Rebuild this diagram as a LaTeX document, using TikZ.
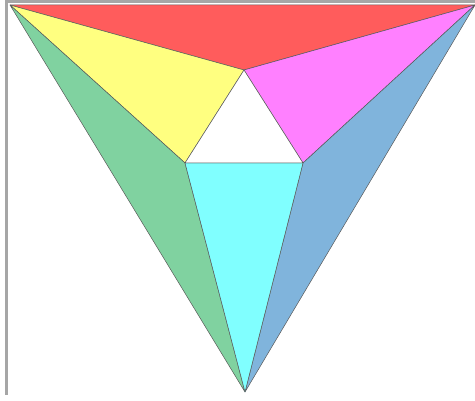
\documentclass[tikz,border=0pt]{standalone}
\usepackage{xcolor}
\usepackage{tikz}
\definecolor{facered}{RGB}{255,92,92}
\definecolor{faceyellow}{RGB}{255,255,128}
\definecolor{facemagenta}{RGB}{255,128,255}
\definecolor{facegreen}{RGB}{128,210,160}
\definecolor{faceblue}{RGB}{128,180,220}
\definecolor{facecyan}{RGB}{128,255,255}
\tikzset{
  face/.style={draw=black!65, line width=0.5pt, line join=round},
  frameline/.style={draw=gray!70, line width=3pt}
}

\begin{document}
\begin{tikzpicture}[x=1pt, y=-1pt]

\useasboundingbox (0,0) rectangle (475,401);

% Corners (outer triangle)
\coordinate (tl) at (10,5);
\coordinate (tr) at (475,5);
\coordinate (bot) at (245,392);

% Corners (inner triangle)
\coordinate (itop) at (244,70);
\coordinate (ileft) at (185,163);
\coordinate (iright) at (303,163);

% Frame
\draw[frameline] (475,2) -- (6,2) -- (6,395);

% Faces
\filldraw[face, fill=facered] (tl) -- (tr) -- (itop) -- cycle;
\filldraw[face, fill=faceyellow] (tl) -- (itop) -- (ileft) -- cycle;
\filldraw[face, fill=facemagenta] (tr) -- (iright) -- (itop) -- cycle;
\filldraw[face, fill=facegreen] (tl) -- (ileft) -- (bot) -- cycle;
\filldraw[face, fill=faceblue] (tr) -- (bot) -- (iright) -- cycle;
\filldraw[face, fill=facecyan] (ileft) -- (iright) -- (bot) -- cycle;
\filldraw[face, fill=white] (itop) -- (ileft) -- (iright) -- cycle;

\end{tikzpicture}
\end{document}
